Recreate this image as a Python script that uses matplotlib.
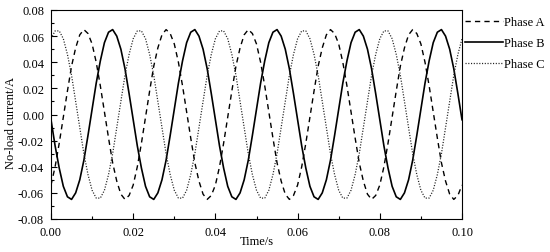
import numpy as np
import matplotlib
matplotlib.use("Agg")
import matplotlib.pyplot as plt
from matplotlib.ticker import MultipleLocator

# ---- data (1 ms sampling) ----
time_start = 0.0
time_end = 0.10
n_samples = 101

phase_a = [
    -0.054, -0.040, -0.022, -0.002, 0.018, 0.037, 0.051, 0.061, 0.065, 0.062,
    0.054, 0.040, 0.022, 0.002, -0.018, -0.037, -0.051, -0.061, -0.065, -0.062,
    -0.054, -0.040, -0.022, -0.002, 0.018, 0.037, 0.051, 0.061, 0.065, 0.062,
    0.054, 0.040, 0.022, 0.002, -0.018, -0.037, -0.051, -0.061, -0.065, -0.062,
    -0.054, -0.040, -0.022, -0.002, 0.018, 0.037, 0.051, 0.061, 0.065, 0.062,
    0.054, 0.040, 0.022, 0.002, -0.018, -0.037, -0.051, -0.061, -0.065, -0.062,
    -0.054, -0.040, -0.022, -0.002, 0.018, 0.037, 0.051, 0.061, 0.065, 0.062,
    0.054, 0.040, 0.022, 0.002, -0.018, -0.037, -0.051, -0.061, -0.065, -0.062,
    -0.054, -0.040, -0.022, -0.002, 0.018, 0.037, 0.051, 0.061, 0.065, 0.062,
    0.054, 0.040, 0.022, 0.002, -0.018, -0.037, -0.051, -0.061, -0.065, -0.062,
    -0.054,
]
phase_b = [
    -0.004, -0.024, -0.041, -0.055, -0.063, -0.065, -0.060, -0.050, -0.035, -0.016,
    0.004, 0.024, 0.041, 0.055, 0.063, 0.065, 0.060, 0.050, 0.035, 0.016,
    -0.004, -0.024, -0.041, -0.055, -0.063, -0.065, -0.060, -0.050, -0.035, -0.016,
    0.004, 0.024, 0.041, 0.055, 0.063, 0.065, 0.060, 0.050, 0.035, 0.016,
    -0.004, -0.024, -0.041, -0.055, -0.063, -0.065, -0.060, -0.050, -0.035, -0.016,
    0.004, 0.024, 0.041, 0.055, 0.063, 0.065, 0.060, 0.050, 0.035, 0.016,
    -0.004, -0.024, -0.041, -0.055, -0.063, -0.065, -0.060, -0.050, -0.035, -0.016,
    0.004, 0.024, 0.041, 0.055, 0.063, 0.065, 0.060, 0.050, 0.035, 0.016,
    -0.004, -0.024, -0.041, -0.055, -0.063, -0.065, -0.060, -0.050, -0.035, -0.016,
    0.004, 0.024, 0.041, 0.055, 0.063, 0.065, 0.060, 0.050, 0.035, 0.016,
    -0.004,
]
phase_c = [
    0.058, 0.064, 0.064, 0.058, 0.046, 0.030, 0.010, -0.010, -0.030, -0.046,
    -0.058, -0.064, -0.064, -0.058, -0.046, -0.030, -0.010, 0.010, 0.030, 0.046,
    0.058, 0.064, 0.064, 0.058, 0.046, 0.030, 0.010, -0.010, -0.030, -0.046,
    -0.058, -0.064, -0.064, -0.058, -0.046, -0.030, -0.010, 0.010, 0.030, 0.046,
    0.058, 0.064, 0.064, 0.058, 0.046, 0.030, 0.010, -0.010, -0.030, -0.046,
    -0.058, -0.064, -0.064, -0.058, -0.046, -0.030, -0.010, 0.010, 0.030, 0.046,
    0.058, 0.064, 0.064, 0.058, 0.046, 0.030, 0.010, -0.010, -0.030, -0.046,
    -0.058, -0.064, -0.064, -0.058, -0.046, -0.030, -0.010, 0.010, 0.030, 0.046,
    0.058, 0.064, 0.064, 0.058, 0.046, 0.030, 0.010, -0.010, -0.030, -0.046,
    -0.058, -0.064, -0.064, -0.058, -0.046, -0.030, -0.010, 0.010, 0.030, 0.046,
    0.058,
]
series_labels = ["Phase A", "Phase B", "Phase C"]
x_ticks = [0.00, 0.02, 0.04, 0.06, 0.08, 0.10]
y_ticks = [-0.08, -0.06, -0.04, -0.02, 0.00, 0.02, 0.04, 0.06, 0.08]
x_label = "Time/s"
y_label = "No-load current/A"

time = np.linspace(time_start, time_end, n_samples)

plt.rcParams['font.family'] = ['Liberation Serif', 'DejaVu Serif']
plt.rcParams['font.size'] = 9

fig = plt.figure(figsize=(5.5, 2.53), dpi=100)
ax = fig.add_axes([51/550, 1-220/253, (462-51)/550, (220-11)/253])

ax.plot(time, phase_a, color='black', lw=1.0, linestyle=(0, (3.8, 3.0)), label=series_labels[0])
ax.plot(time, phase_b, color='black', lw=1.2, linestyle='-', label=series_labels[1])
ax.plot(time, phase_c, color='#222222', lw=0.9, linestyle=(0, (0.9, 1.3)), label=series_labels[2])

ax.set_xlim(0, 0.10)
ax.set_ylim(-0.08, 0.08)
ax.set_xticks(x_ticks)
ax.set_xticklabels([f"{v:.2f}" for v in x_ticks])
ax.set_yticks(y_ticks)
ax.set_yticklabels([f"{v:.2f}" for v in y_ticks])
ax.xaxis.set_minor_locator(MultipleLocator(0.01))
ax.yaxis.set_minor_locator(MultipleLocator(0.01))
ax.tick_params(which='both', direction='in', top=False, right=False, labelsize=9)
ax.tick_params(axis='x', which='major', pad=5)
ax.tick_params(axis='y', which='major', pad=5)
ax.tick_params(which='major', length=4, width=0.8)
ax.tick_params(which='minor', length=2, width=0.8)
for s in ax.spines.values():
    s.set_linewidth(0.8)

ax.set_xlabel(x_label, fontsize=9)
ax.set_ylabel(y_label, fontsize=9)
ax.xaxis.set_label_coords(0.5, -(236 - 220) / 209)
ax.yaxis.set_label_coords(-(51 - 17) / 411, 1 - (123.5 - 11) / 209)

fig.legend(loc='upper left', bbox_to_anchor=(465/550, 1-17/253), frameon=False,
           handlelength=3.0, handletextpad=0.15, labelspacing=0.72, borderpad=0,
           borderaxespad=0, fontsize=9)

fig.savefig("out.png", dpi=100)
